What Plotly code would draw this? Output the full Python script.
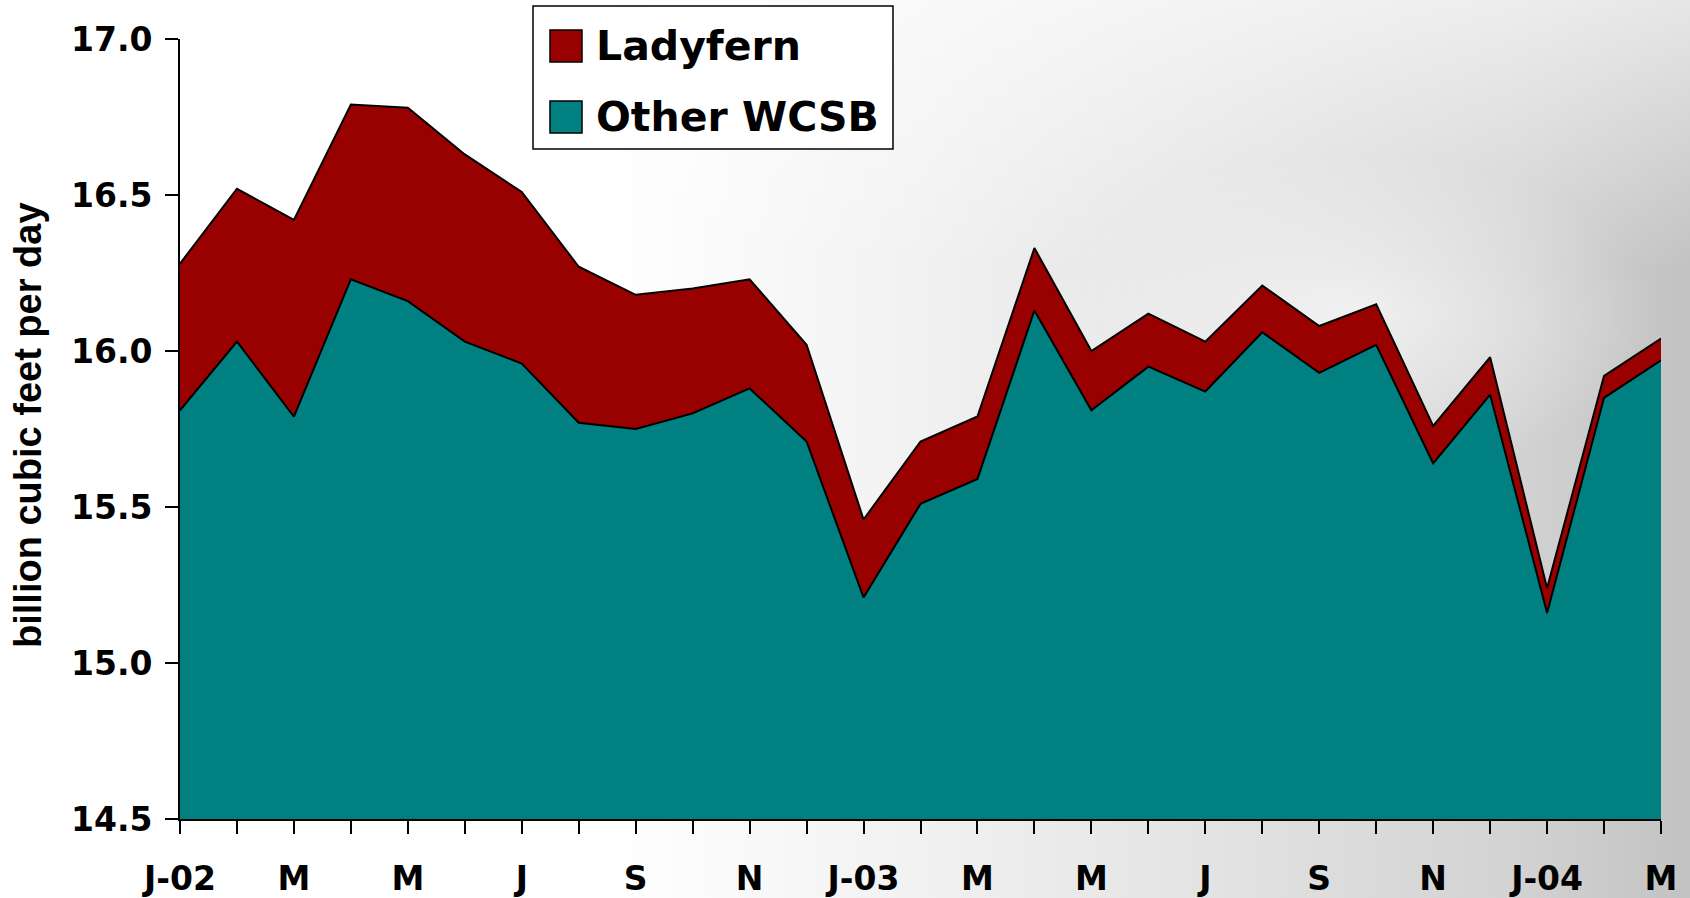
import base64
import plotly.graph_objects as go

# ---- data ----
months = list(range(27))  # Jan-2002 .. Mar-2004
tick_labels = ["J-02", "", "M", "", "M", "", "J", "", "S", "", "N", "",
               "J-03", "", "M", "", "M", "", "J", "", "S", "", "N", "",
               "J-04", "", "M"]
other_wcsb = [15.81, 16.03, 15.79, 16.23, 16.16, 16.03, 15.96, 15.77, 15.75,
              15.80, 15.88, 15.71, 15.21, 15.51, 15.59, 16.13, 15.81, 15.95,
              15.87, 16.06, 15.93, 16.02, 15.64, 15.86, 15.16, 15.85, 15.97]
ladyfern = [0.47, 0.49, 0.63, 0.56, 0.62, 0.60, 0.55, 0.50, 0.43,
            0.40, 0.35, 0.31, 0.25, 0.20, 0.20, 0.20, 0.19, 0.17,
            0.16, 0.15, 0.15, 0.13, 0.12, 0.12, 0.08, 0.07, 0.07]
y_ticks = [14.5, 15.0, 15.5, 16.0, 16.5, 17.0]
series_names = ["Ladyfern", "Other WCSB"]
series_colors = ["#990000", "#008080"]

W, H = 1690, 898
L, R, T, B = 180, 29, 39, 79
pw, ph = W - L - R, H - T - B

fig = go.Figure()
fig.add_trace(go.Scatter(x=months, y=other_wcsb, name=series_names[1], stackgroup="s",
                         mode="lines", line=dict(color="black", width=2),
                         fillcolor=series_colors[1], showlegend=False))
fig.add_trace(go.Scatter(x=months, y=ladyfern, name=series_names[0], stackgroup="s",
                         mode="lines", line=dict(color="black", width=2),
                         fillcolor=series_colors[0], showlegend=False))

# background (grey gradient like the photo backdrop)
svg = f'''<svg xmlns="http://www.w3.org/2000/svg" width="{W}" height="{H}" preserveAspectRatio="none">
<defs>
<linearGradient id="g" x1="0" y1="0" x2="1" y2="0">
<stop offset="0" stop-color="#ffffff"/>
<stop offset="0.36" stop-color="#ffffff"/>
<stop offset="0.55" stop-color="#f1f1f1"/>
<stop offset="0.75" stop-color="#e0e0e0"/>
<stop offset="0.9" stop-color="#d2d2d2"/>
<stop offset="1" stop-color="#c2c2c2"/>
</linearGradient>
<linearGradient id="v" x1="0" y1="0" x2="0" y2="1">
<stop offset="0" stop-color="#ffffff" stop-opacity="0.6"/>
<stop offset="0.3" stop-color="#ffffff" stop-opacity="0"/>
<stop offset="1" stop-color="#ffffff" stop-opacity="0"/>
</linearGradient>
<radialGradient id="r" cx="0.8" cy="0.35" r="0.18">
<stop offset="0" stop-color="#ffffff" stop-opacity="0.6"/>
<stop offset="1" stop-color="#ffffff" stop-opacity="0"/>
</radialGradient>
</defs>
<rect width="{W}" height="{H}" fill="url(#g)"/>
<rect width="{W}" height="{H}" fill="url(#v)"/>
<rect width="{W}" height="{H}" fill="url(#r)"/>
</svg>'''
src = "data:image/svg+xml;base64," + base64.b64encode(svg.encode()).decode()
fig.add_layout_image(dict(source=src, xref="paper", yref="paper",
                          x=-L / pw, y=1 + T / ph, sizex=W / pw, sizey=H / ph,
                          xanchor="left", yanchor="top", sizing="stretch",
                          layer="below"))

FONT = "Liberation Sans, Arial, sans-serif"
WIDE = "DejaVu Sans, Liberation Sans, sans-serif"

def px(xf):
    return (xf - L) / pw

def py(yf):
    return (H - B - yf) / ph

# custom legend
fig.add_shape(type="rect", xref="paper", yref="paper",
              x0=px(533), x1=px(893), y0=py(149), y1=py(6),
              line=dict(color="black", width=1.5), fillcolor="white", layer="above")
for nm, col, yc in zip(series_names, series_colors, [46, 117]):
    fig.add_shape(type="rect", xref="paper", yref="paper",
                  x0=px(550), x1=px(582), y0=py(yc + 16), y1=py(yc - 16),
                  line=dict(color="black", width=1.5), fillcolor=col, layer="above")
    fig.add_annotation(text=f"<b>{nm}</b>", xref="paper", yref="paper",
                       x=px(594), y=py(yc), xanchor="left", yanchor="middle",
                       showarrow=False, font=dict(family=WIDE, size=41, color="black"))

# y axis title
fig.add_annotation(text="<b>billion cubic feet per day</b>", xref="paper", yref="paper",
                   x=px(28), y=py(425), textangle=-90, showarrow=False,
                   xanchor="center", yanchor="middle",
                   font=dict(family=FONT, size=38, color="black"))

fig.update_layout(
    width=W, height=H,
    margin=dict(l=L, r=R, t=T, b=B, autoexpand=False),
    paper_bgcolor="white",
    plot_bgcolor="rgba(0,0,0,0)",
    showlegend=False,
    xaxis=dict(range=[0, 26], tickvals=months, automargin=False,
               ticktext=[f"<b>{t}</b>" if t else "" for t in tick_labels],
               showgrid=False, zeroline=False, showline=True, linecolor="black",
               linewidth=2, ticks="outside", ticklen=13, tickwidth=1.5, tickcolor="black",
               tickfont=dict(family=WIDE, size=33, color="black"), ticklabelstandoff=16),
    yaxis=dict(range=[14.5, 17.0], tickvals=y_ticks, automargin=False,
               ticktext=[f"<b>{v:.1f}</b>" for v in y_ticks],
               showgrid=False, zeroline=False, showline=True, linecolor="black",
               linewidth=2, ticks="outside", ticklen=13, tickwidth=1.5, tickcolor="black",
               tickfont=dict(family=WIDE, size=33, color="black"), ticklabelstandoff=6),
)

fig.write_html("out.html", config={"displayModeBar": False},
               post_script="document.body.style.margin='0';")
